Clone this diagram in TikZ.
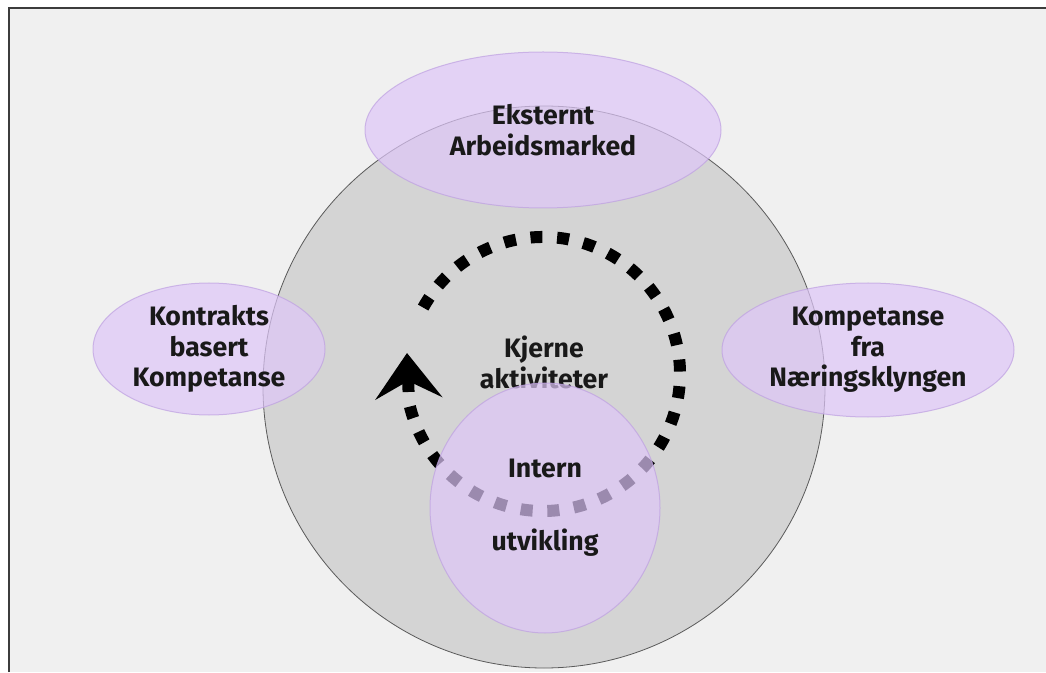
\documentclass[tikz,border=0pt]{standalone}
\usepackage{fontspec}
\setmainfont{Fira Sans}
\usetikzlibrary{shapes.geometric,arrows.meta}

\definecolor{panelbg}{RGB}{240,240,240}
\definecolor{framecol}{RGB}{60,60,60}
\definecolor{corefill}{RGB}{212,212,212}
\definecolor{coreline}{RGB}{90,90,90}
\definecolor{lavfill}{RGB}{222,198,248}
\definecolor{lavline}{RGB}{190,160,225}

\tikzset{
  bubble/.style={ellipse, fill=lavfill, draw=lavline, line width=0.75pt,
    opacity=0.7, text opacity=1, inner sep=0pt, align=center,
    font=\bfseries\fontsize{20}{23}\selectfont, text=black!90},
  cycletext/.style={align=center, font=\bfseries\fontsize{20}{23}\selectfont, text=black!90},
  cycleloop/.style={line width=9pt, dash pattern=on 9pt off 11pt,
    -{Stealth[length=34pt,width=50pt,inset=13pt]}}
}

\begin{document}
\begin{tikzpicture}[x=0.75pt,y=0.75pt]
  \useasboundingbox (0,0) rectangle (1046,672);
  % panel
  \fill[panelbg] (8.5,0) rectangle (1046,663.5);
  \draw[framecol,line width=1.5pt] (8.5,0) |- (1046,663.5);

  % core circle
  \node[circle, minimum size=421.5pt, fill=corefill, draw=coreline, line width=0.6pt] (base) at (544,285) {};
  \coordinate (loopc) at (543,298);
  \coordinate (looptip) at (407,319);
  \draw[cycleloop] ([shift={(151:102.75pt)}]loopc) arc[start angle=151, end angle=-168, radius=102.75pt] -- (looptip);
  \node[cycletext] (core) at (544,309.5) {Kjerne\\aktiviteter};

  % surrounding sources
  \node[bubble, minimum width=267pt, minimum height=117pt] (ext) at (543,542) {Eksternt\\Arbeidsmarked};
  \node[bubble, minimum width=174pt, minimum height=99pt] (contract) at (209,323) {Kontrakts\\basert\\Kompetanse};
  \node[bubble, minimum width=219pt, minimum height=100.5pt] (cluster) at (868,322) {Kompetanse\\fra\\Næringsklyngen};
  \node[bubble, minimum width=172.5pt, minimum height=187.5pt] (intern) at (545,164) {Intern\\[32pt]utvikling};
\end{tikzpicture}
\end{document}
